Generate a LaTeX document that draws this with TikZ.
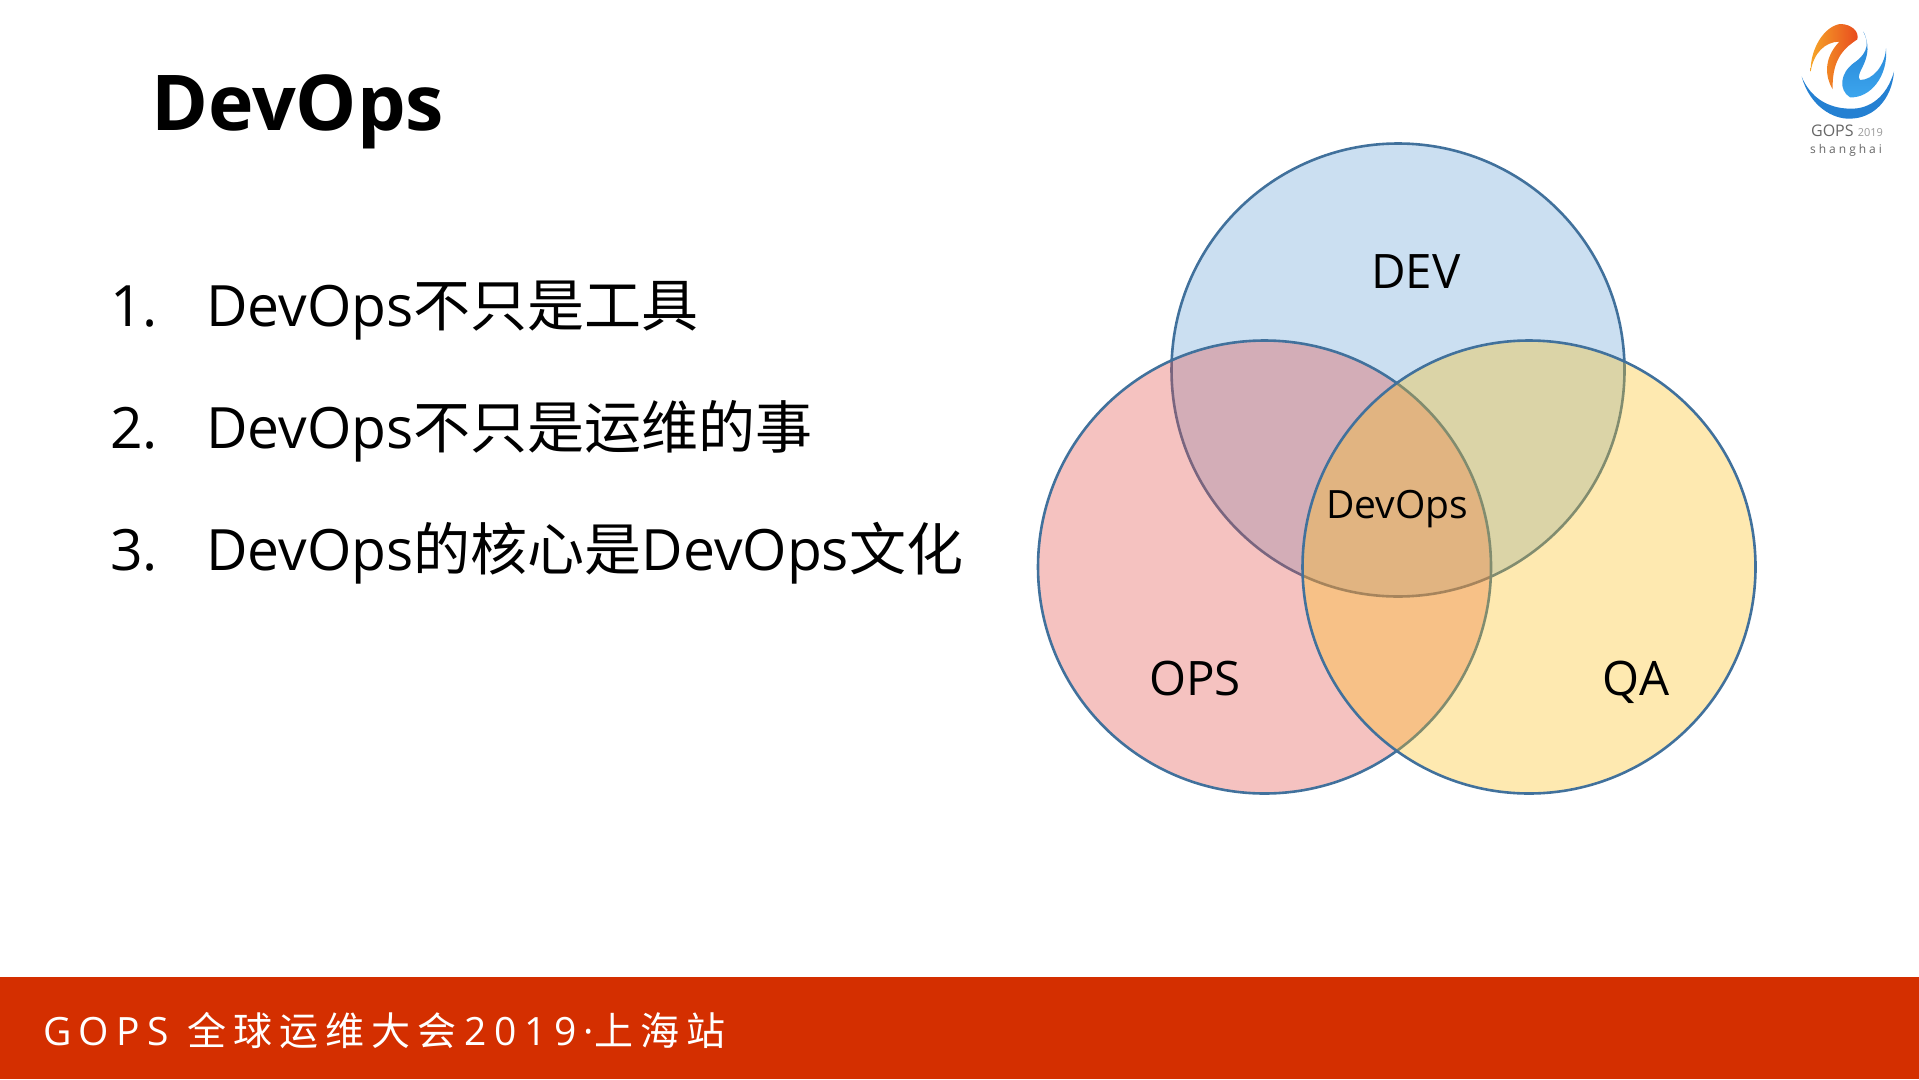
\documentclass[tikz,border=0pt]{standalone}
\usepackage{fontspec}
\setmainfont{Open Sans}
\newfontfamily\zhfont{Noto Sans CJK SC}
\newfontfamily\footfont[LetterSpace=18]{Noto Sans CJK SC}
\newfontfamily\footlatin[LetterSpace=19]{Open Sans}
\newfontfamily\shfont[LetterSpace=25]{Open Sans}
\usetikzlibrary{positioning}
\definecolor{venndev}{HTML}{6AA4D7}
\definecolor{vennops}{HTML}{E2514B}
\definecolor{vennqa}{HTML}{FBC01D}
\definecolor{vennline}{HTML}{41719C}
\definecolor{footred}{HTML}{D42F00}
\definecolor{logoblue}{HTML}{2480D2}
\definecolor{logosky}{HTML}{3CA6EE}
\definecolor{logoorange}{HTML}{F6A628}
\definecolor{logored}{HTML}{E8481E}
\newcommand{\fs}[1]{\fontsize{#1}{#1}\selectfont}
\newcommand{\zh}[1]{{\zhfont #1}}
\newcommand{\lat}[1]{{\footlatin #1}}
\tikzset{
  venn/.style={circle,draw=vennline,line width=2.6pt,minimum size=453pt,inner sep=0pt,fill opacity=0.35},
  bigl/.style={font=\fs{47.5},anchor=base,inner sep=0pt},
  item/.style={font=\fs{57},anchor=base west,inner sep=0pt},
  logotext/.style={text=black!60,inner sep=0pt}
}
\begin{document}
\begin{tikzpicture}[x=1pt,y=-1pt]
  \useasboundingbox (0,0) rectangle (1919,1079);
  % footer
  \fill[footred] (0,977) rectangle (1919,1079);
  \node[anchor=base west,inner sep=0pt,text=white,font=\fs{39}\footfont] (foot) at (43,1045) {\lat{GOPS} \hspace{3pt}全球运维大会\hspace{8pt}\lat{2019·}上海站};
  % title and list
  \node[anchor=base west,inner sep=0pt,font=\fs{77}\bfseries] (title) at (151,130) {DevOps};
  \node[item] (num1) at (110,326) {1.};
  \node[item] (num2) at (110,448) {2.};
  \node[item] (num3) at (110,570) {3.};
  \node[item] (item1) at (206,326) {DevOps\zh{不只是工具}};
  \node[item] (item2) at (206,448) {DevOps\zh{不只是运维的事}};
  \node[item] (item3) at (206,570) {DevOps\zh{的核心是}DevOps\zh{文化}};
  % circles
  \node[venn,fill=venndev] (dev) at (1398,370) {};
  \node[venn,fill=vennops] (ops) at (1264.5,567) {};
  \node[venn,fill=vennqa] (qa) at (1529,567) {};
  \node[bigl] (devlabel) at (1416,288) {DEV};
  \node[bigl] (opslabel) at (1195,695) {OPS};
  \node[bigl] (qalabel) at (1636,695) {QA};
  \node[font=\fs{39},inner sep=0pt,anchor=base] (both) at (1397,518) {DevOps};
  % logo
  \begin{scope}[shift={(1760,0)},scale=1/3]
    \fill[logoblue] (125,230) .. controls (150,320) and (220,358) .. (270,356)
      .. controls (340,355) and (395,300) .. (402,215)
      .. controls (380,290) and (330,328) .. (270,326)
      .. controls (200,325) and (150,290) .. (125,230) -- cycle;
    \shade[left color=logoorange,right color=logored] (152,215)
      .. controls (150,150) and (190,80) .. (240,72)
      .. controls (275,72) and (298,95) .. (292,118)
      .. controls (260,140) and (215,170) .. (218,268)
      .. controls (195,230) and (190,175) .. (238,125)
      .. controls (195,125) and (160,160) .. (152,215) -- cycle;
    \shade[top color=logoblue,bottom color=logosky] (310,95)
      .. controls (335,140) and (310,170) .. (280,190)
      .. controls (240,220) and (235,270) .. (270,292)
      .. controls (330,295) and (385,230) .. (378,145)
      .. controls (375,195) and (340,240) .. (300,240)
      .. controls (280,220) and (350,175) .. (310,95) -- cycle;
  \end{scope}
  \node[logotext,font=\fs{16}] (gops) at (1847,131) {GOPS {\color{black!40}\fs{11}2019}};
  \node[logotext,font=\fs{12}\shfont] (shanghai) at (1846,150) {shanghai};
\end{tikzpicture}
\end{document}
